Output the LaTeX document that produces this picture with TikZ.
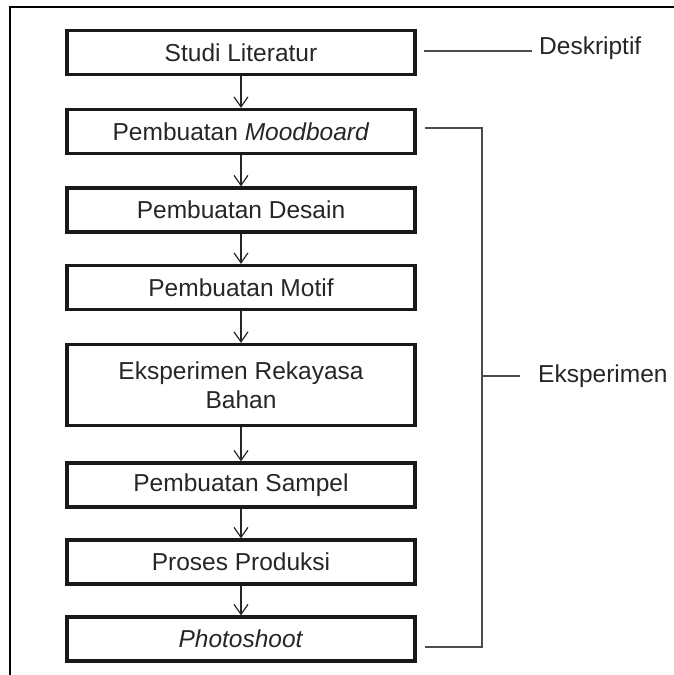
\documentclass[tikz,border=0pt]{standalone}
\usepackage{fontspec}
\setmainfont{Liberation Sans}
\usetikzlibrary{arrows.meta}
\begin{document}
\begin{tikzpicture}[x=1pt,y=-1pt,
  stepbox/.style={draw=black!90, line width=3.2pt, minimum width=348pt, minimum height=44pt,
    inner sep=0pt, font=\fontsize{24.5}{29}\selectfont, align=center, text=black!85},
  link/.style={line width=1.2pt, draw=black!85,
    -{Straight Barb[length=10pt,width=14pt,line width=1.2pt]}},
  bracket/.style={line width=1.3pt, draw=black!70},
  lab/.style={font=\fontsize{24.5}{29}\selectfont, anchor=west, inner sep=0pt, text=black!85}]
\useasboundingbox (0,0) rectangle (674,675);
\draw[line width=2pt] (10,675) -- (10,7) -- (674,7);

\node[stepbox] (b1) at (241,52.5) {Studi Literatur};
\node[stepbox] (b2) at (241,131.5) {Pembuatan \textit{Moodboard}};
\node[stepbox] (b3) at (241,210) {Pembuatan Desain};
\node[stepbox] (b4) at (241,287.5) {Pembuatan Motif};
\node[stepbox, minimum height=81pt] (b5) at (241,385) {Eksperimen Rekayasa\\Bahan};
\node[stepbox] (b6) at (241,485) {Pembuatan Sampel};
\node[stepbox] (b7) at (241,562) {Proses Produksi};
\node[stepbox] (b8) at (241,639) {\textit{Photoshoot}};

\foreach \a/\b in {b1/b2,b2/b3,b3/b4,b4/b5,b5/b6,b6/b7,b7/b8}
  \draw[link] (\a.south) -- (\b.north);

% Deskriptif
\coordinate (d1) at (424,51);
\coordinate (d2) at (532,51);
\node[lab] (desk) at (539,48) {Deskriptif};
\draw[bracket] (d1) -- (d2);

% Eksperimen bracket
\coordinate (t1) at (425,128);
\coordinate (t2) at (482,128);
\coordinate (t3) at (482,647);
\coordinate (t4) at (425,647);
\coordinate (m1) at (482,376);
\coordinate (m2) at (520,376);
\node[lab] (eks) at (538,376) {Eksperimen};
\draw[bracket] (t1) -- (t2) -- (t3) -- (t4);
\draw[bracket] (m1) -- (m2);
\end{tikzpicture}
\end{document}
